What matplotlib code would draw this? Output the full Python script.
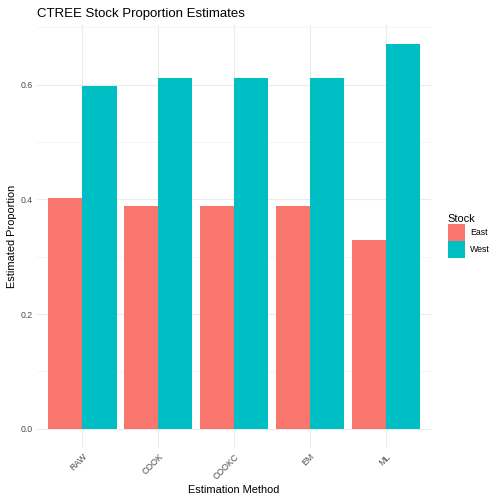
import numpy as np
import matplotlib.pyplot as plt
from matplotlib.patches import Patch

plt.rcParams['font.family'] = ['Liberation Sans', 'DejaVu Sans']

methods = ['RAW', 'COOK', 'COOKC', 'EM', 'ML']
east = [0.402, 0.389, 0.389, 0.389, 0.329]
west = [0.598, 0.611, 0.611, 0.611, 0.671]
stocks = ['East', 'West']
colors = ['#F8766D', '#00BFC4']

fig = plt.figure(figsize=(7, 7), dpi=72)
ax = fig.add_axes([0.0734, 0.111, 0.782, 0.840])

x = np.arange(1, len(methods) + 1)
w = 0.45
ax.bar(x - w / 2, east, width=w, color=colors[0], zorder=2)
ax.bar(x + w / 2, west, width=w, color=colors[1], zorder=2)

ymax = max(max(east), max(west))
ax.set_xlim(0.4, len(methods) + 0.6)
ax.set_ylim(-0.05 * ymax, 1.05 * ymax)

ax.set_yticks([0.0, 0.2, 0.4, 0.6])
ax.set_yticklabels(['0.0', '0.2', '0.4', '0.6'])
ax.set_yticks([0.1, 0.3, 0.5, 0.7], minor=True)
ax.set_xticks(x)
ax.set_xticklabels(methods, rotation=45, ha='right', va='top', rotation_mode='anchor')

ax.grid(which='major', color='#EBEBEB', linewidth=1.1, zorder=0)
ax.grid(which='minor', axis='y', color='#EBEBEB', linewidth=0.55, zorder=0)
for s in ax.spines.values():
    s.set_visible(False)
ax.tick_params(axis='both', which='both', length=0, labelsize=8.8, labelcolor='#4D4D4D')
ax.tick_params(axis='x', pad=4)
ax.tick_params(axis='y', pad=4)

ax.set_title('CTREE Stock Proportion Estimates', loc='left', fontsize=13.2, pad=8)
ax.set_xlabel('Estimation Method', fontsize=11)
ax.set_ylabel('Estimated Proportion', fontsize=11)

handles = [Patch(facecolor=c, edgecolor='none') for c in colors]
leg = fig.legend(handles, stocks, title='Stock', loc='center left',
                 bbox_to_anchor=(0.881, 0.532), frameon=False, fontsize=8.8,
                 title_fontsize=11, handlelength=1.95, handleheight=2.6,
                 handletextpad=0.6, labelspacing=0.0, borderaxespad=0)
leg._legend_box.align = 'left'

fig.savefig('out.png', dpi=72)
